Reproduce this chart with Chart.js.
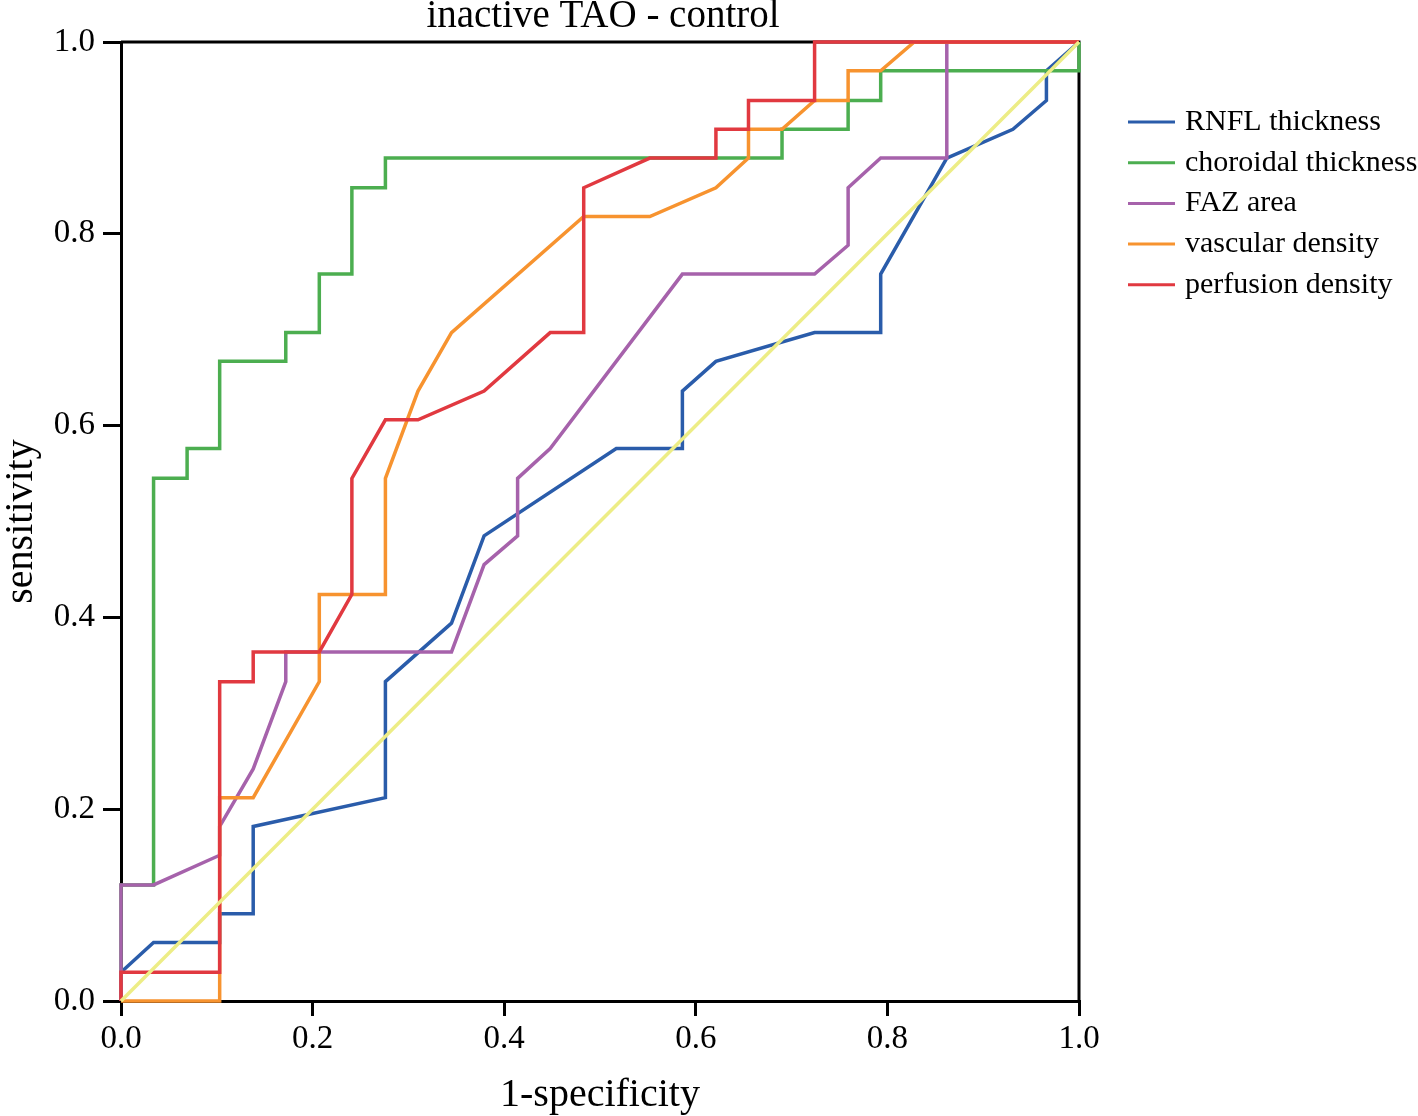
<!DOCTYPE html>
<html>
<head>
<meta charset="utf-8">
<script src="https://cdn.jsdelivr.net/npm/chart.js@4/dist/chart.umd.min.js"></script>
<style>
  html, body { margin: 0; padding: 0; background: #fff; }
  #wrap { width: 1418px; height: 1116px; }
</style>
</head>
<body>
<div id="wrap"><canvas id="roc-chart" width="1418" height="1116"></canvas></div>
<script>
// ROC curves, values (x = 1-specificity, y = sensitivity)
const rnflX = [0, 0, 0.034, 0.103, 0.103, 0.138, 0.138, 0.276, 0.276, 0.345, 0.379, 0.517, 0.586, 0.586, 0.621, 0.724, 0.793, 0.793, 0.862, 0.931, 0.966, 0.966, 1];
const rnflY = [0, 0.030, 0.061, 0.061, 0.091, 0.091, 0.182, 0.212, 0.333, 0.394, 0.485, 0.576, 0.576, 0.636, 0.667, 0.697, 0.697, 0.758, 0.879, 0.909, 0.939, 0.970, 1];

const choroidX = [0, 0, 0.034, 0.034, 0.069, 0.069, 0.103, 0.103, 0.172, 0.172, 0.207, 0.207, 0.241, 0.241, 0.276, 0.276, 0.690, 0.690, 0.759, 0.759, 0.793, 0.793, 1, 1];
const choroidY = [0, 0.121, 0.121, 0.545, 0.545, 0.576, 0.576, 0.667, 0.667, 0.697, 0.697, 0.758, 0.758, 0.848, 0.848, 0.879, 0.879, 0.909, 0.909, 0.939, 0.939, 0.970, 0.970, 1];

const fazX = [0, 0, 0.034, 0.103, 0.103, 0.138, 0.172, 0.172, 0.345, 0.379, 0.414, 0.414, 0.448, 0.586, 0.724, 0.759, 0.759, 0.793, 0.862, 0.862, 1];
const fazY = [0, 0.121, 0.121, 0.152, 0.182, 0.242, 0.333, 0.364, 0.364, 0.455, 0.485, 0.545, 0.576, 0.758, 0.758, 0.788, 0.848, 0.879, 0.879, 1, 1];

const vascX = [0, 0.103, 0.103, 0.138, 0.207, 0.207, 0.276, 0.276, 0.310, 0.345, 0.483, 0.552, 0.621, 0.655, 0.655, 0.690, 0.724, 0.759, 0.759, 0.793, 0.828, 1];
const vascY = [0, 0, 0.212, 0.212, 0.333, 0.424, 0.424, 0.545, 0.636, 0.697, 0.818, 0.818, 0.848, 0.879, 0.909, 0.909, 0.939, 0.939, 0.970, 0.970, 1, 1];

const perfX = [0, 0, 0.103, 0.103, 0.138, 0.138, 0.207, 0.241, 0.241, 0.276, 0.310, 0.379, 0.448, 0.483, 0.483, 0.552, 0.621, 0.621, 0.655, 0.655, 0.724, 0.724, 1];
const perfY = [0, 0.030, 0.030, 0.333, 0.333, 0.364, 0.364, 0.424, 0.545, 0.606, 0.606, 0.636, 0.697, 0.697, 0.848, 0.879, 0.879, 0.909, 0.909, 0.939, 0.939, 1, 1];

const refX = [0, 1];
const refY = [0, 1];

const axisTicks = [0, 0.2, 0.4, 0.6, 0.8, 1.0];

const FONT = "'Liberation Serif', 'Times New Roman', serif";

function pts(xs, ys) {
  return xs.map((x, i) => ({ x: x, y: ys[i] }));
}

function series(label, xs, ys, color, order, inLegend) {
  return {
    label: label,
    data: pts(xs, ys),
    borderColor: color,
    backgroundColor: color,
    borderWidth: 3.5,
    pointRadius: 0,
    tension: 0,
    fill: false,
    clip: 6,
    order: order,
    inLegend: inLegend
  };
}

// frame on top and right, title over the plot box, and the legend
const framePlugin = {
  id: 'frame',
  beforeDatasetsDraw(chart) {
    const a = chart.chartArea;
    const ctx = chart.ctx;
    ctx.save();
    ctx.strokeStyle = '#000';
    ctx.lineWidth = 3;
    ctx.beginPath();
    ctx.moveTo(a.left, a.top);
    ctx.lineTo(a.right, a.top);
    ctx.lineTo(a.right, a.bottom);
    ctx.stroke();
    ctx.restore();
  },
  afterDraw(chart) {
    const a = chart.chartArea;
    const ctx = chart.ctx;
    ctx.save();
    ctx.fillStyle = '#000';
    ctx.font = '39px ' + FONT;
    ctx.textAlign = 'center';
    ctx.textBaseline = 'alphabetic';
    ctx.fillText('inactive TAO - control', (a.left + a.right) / 2 + 3, 27);

    ctx.font = '30px ' + FONT;
    ctx.textAlign = 'left';
    ctx.textBaseline = 'middle';
    let y = 122;
    chart.data.datasets.forEach(ds => {
      if (!ds.inLegend) return;
      ctx.strokeStyle = ds.borderColor;
      ctx.lineWidth = 3;
      ctx.beginPath();
      ctx.moveTo(1128, y);
      ctx.lineTo(1175, y);
      ctx.stroke();
      ctx.fillText(ds.label, 1185, y);
      y += 40.7;
    });
    ctx.restore();
  }
};

const ctx = document.getElementById('roc-chart').getContext('2d');
new Chart(ctx, {
  type: 'line',
  data: {
    datasets: [
      series('RNFL thickness', rnflX, rnflY, '#2a5caa', 5, true),
      series('choroidal thickness', choroidX, choroidY, '#4cae50', 4, true),
      series('FAZ area', fazX, fazY, '#a662ab', 3, true),
      series('vascular density', vascX, vascY, '#f7932f', 2, true),
      series('perfusion density', perfX, perfY, '#e13940', 1, true),
      series('reference', refX, refY, '#eded86', 0, false)
    ]
  },
  options: {
    responsive: false,
    animation: false,
    layout: { padding: { left: 0, right: 339, top: 42, bottom: 0 } },
    plugins: {
      legend: { display: false },
      tooltip: { enabled: false },
      title: { display: false }
    },
    scales: {
      x: {
        type: 'linear',
        min: 0,
        max: 1,
        afterFit: s => { s.height = 115; },
        afterBuildTicks: s => { s.ticks = axisTicks.map(v => ({ value: v })); },
        ticks: {
          color: '#000',
          font: { family: FONT, size: 33 },
          padding: 4,
          maxRotation: 0,
          callback: v => v.toFixed(1)
        },
        grid: { drawOnChartArea: false, drawTicks: true, tickLength: 15, color: '#000', lineWidth: 3 },
        border: { display: true, color: '#000', width: 3 },
        title: {
          display: true,
          text: '1-specificity',
          color: '#000',
          font: { family: FONT, size: 40, lineHeight: 1 },
          padding: { top: 0, bottom: 1 }
        }
      },
      y: {
        type: 'linear',
        min: 0,
        max: 1,
        afterFit: s => { s.width = 121; },
        afterBuildTicks: s => { s.ticks = axisTicks.map(v => ({ value: v })); },
        ticks: {
          color: '#000',
          font: { family: FONT, size: 33 },
          padding: 8,
          callback: v => v.toFixed(1)
        },
        grid: { drawOnChartArea: false, drawTicks: true, tickLength: 18, color: '#000', lineWidth: 3 },
        border: { display: true, color: '#000', width: 3 },
        title: {
          display: true,
          text: 'sensitivity',
          color: '#000',
          font: { family: FONT, size: 40, lineHeight: 1 },
          padding: { top: 1, bottom: 0 }
        }
      }
    }
  },
  plugins: [framePlugin]
});
</script>
</body>
</html>
